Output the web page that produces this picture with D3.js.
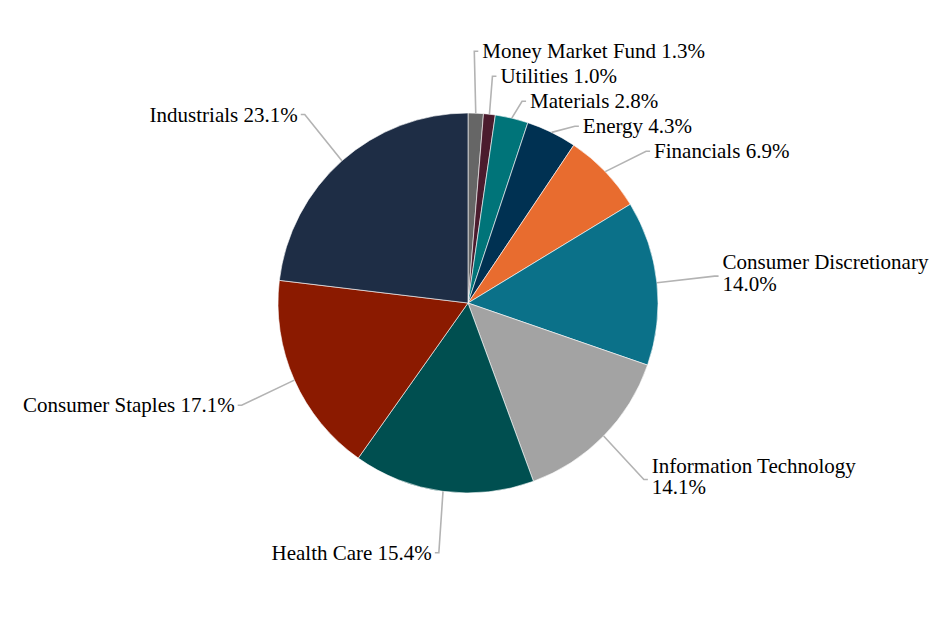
<!DOCTYPE html>
<html>
<head>
<meta charset="utf-8">
<script src="https://cdn.jsdelivr.net/npm/d3@7"></script>
<style>
  html, body { margin: 0; padding: 0; background: #fff; }
  svg { display: block; }
  text { font-family: "Liberation Serif", "Times New Roman", Times, serif; font-size: 21px; fill: #000; }
</style>
</head>
<body>
<svg id="chart" width="936" height="636"></svg>
<script>
const categories = ["Money Market Fund", "Utilities", "Materials", "Energy", "Financials",
  "Consumer Discretionary", "Information Technology", "Health Care", "Consumer Staples", "Industrials"];
const values = [1.3, 1.0, 2.8, 4.3, 6.9, 14.0, 14.1, 15.4, 17.1, 23.1];
const colors = ["#666666", "#4b1b2d", "#007479", "#003152", "#e86c2f",
  "#0b7189", "#a3a3a3", "#004f50", "#8b1a00", "#1e2d45"];

const W = 936, H = 636;
const cx = 468, cy = 303, R = 190, labelR = 252;
const lineGap = 25, wrapLimit = 900;

const svg = d3.select("#chart");
const data = categories.map((c, i) => ({ name: c, value: values[i], color: colors[i] }));

const pie = d3.pie().value(d => d.value).sort(null).startAngle(0).endAngle(2 * Math.PI);
const arcs = pie(data);
const arc = d3.arc().innerRadius(0).outerRadius(R);

const g = svg.append("g").attr("transform", `translate(${cx},${cy})`);
g.selectAll("path.slice").data(arcs).join("path")
  .attr("class", "slice")
  .attr("d", arc)
  .attr("fill", d => d.data.color)
  .attr("stroke", "#fff")
  .attr("stroke-width", 0.6);

const labels = arcs.map(a => {
  const mid = (a.startAngle + a.endAngle) / 2;
  return {
    a, mid,
    right: mid < Math.PI,
    ex: Math.sin(mid) * R, ey: -Math.cos(mid) * R,
    x: Math.sin(mid) * labelR, y: -Math.cos(mid) * labelR
  };
});

const rightL = labels.filter(l => l.right).sort((p, q) => p.y - q.y);
for (let i = 1; i < rightL.length; i++) {
  if (rightL[i].y < rightL[i - 1].y + lineGap) rightL[i].y = rightL[i - 1].y + lineGap;
}
const leftL = labels.filter(l => !l.right).sort((p, q) => p.y - q.y);
for (let i = 1; i < leftL.length; i++) {
  if (leftL[i].y < leftL[i - 1].y + lineGap) leftL[i].y = leftL[i - 1].y + lineGap;
}

const lg = g.append("g");
labels.forEach(l => {
  const s = l.right ? 1 : -1;
  lg.append("path")
    .attr("d", d3.line()([[l.ex, l.ey], [l.x - s * 4, l.y], [l.x, l.y]]))
    .attr("fill", "none")
    .attr("stroke", "#b3b3b3")
    .attr("stroke-width", 1.6);

  const tx = l.x + (l.right ? 4 : -3);
  const full = `${l.a.data.name} ${l.a.data.value.toFixed(1)}%`;
  const t = lg.append("text")
    .attr("x", tx)
    .attr("y", l.y + 7)
    .attr("text-anchor", l.right ? "start" : "end")
    .text(full);
  const w = t.node().getComputedTextLength();
  if (l.right && cx + tx + w > wrapLimit) {
    t.text(null);
    t.attr("y", l.y - 7);
    t.append("tspan").attr("x", tx).text(l.a.data.name);
    t.append("tspan").attr("x", tx).attr("dy", 21.5).text(`${l.a.data.value.toFixed(1)}%`);
  }
});
</script>
</body>
</html>
